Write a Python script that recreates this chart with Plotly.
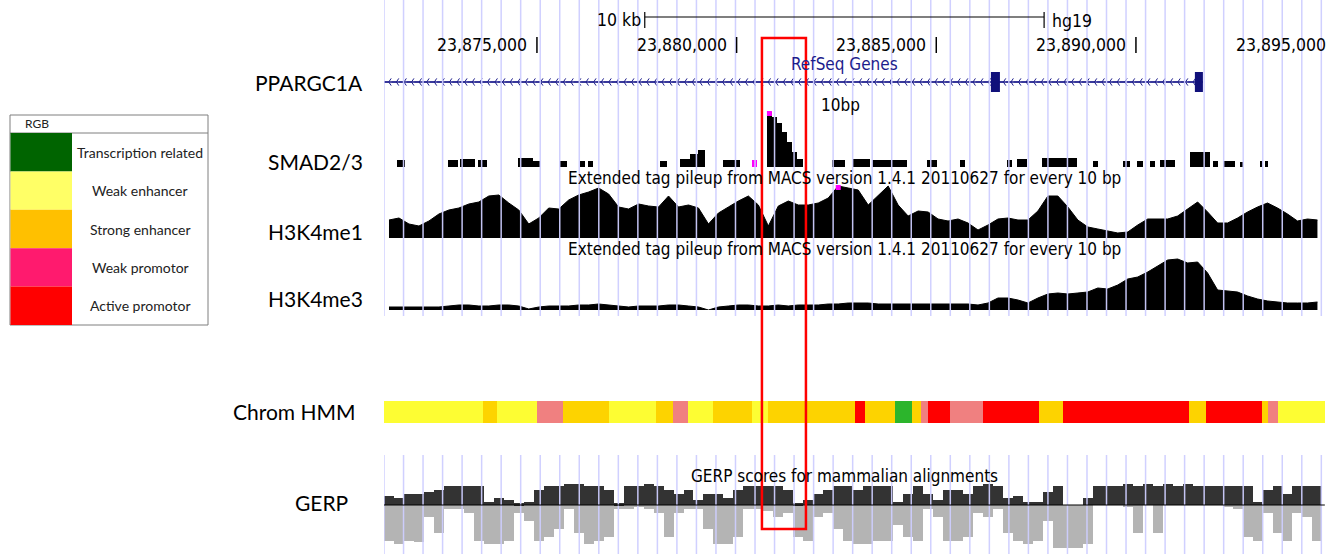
import numpy as np
import plotly.graph_objects as go

W, H = 1342, 554

# ---------------- data ----------------
VIEW_START = 23871170
VIEW_END = 23895160
TRACK_END = 23894730

tick_positions = [23875000, 23880000, 23885000, 23890000, 23895000]
tick_labels = ["23,875,000", "23,880,000", "23,885,000", "23,890,000", "23,895,000"]

scale_start, scale_end = 23877700, 23887700
scale_label = "10 kb"
assembly = "hg19"

gene_name = "PPARGC1A"
gene_end = 23891677
exon_starts = [23886368, 23891476]
exon_ends = [23886594, 23891677]

bin_size = 250
signal_start = 23871170

h3k4me1 = [18, 20, 14, 12, 17, 24, 28, 30, 34, 36,
           42, 43, 35, 28, 14, 20, 30, 29, 38, 43,
           46, 50, 44, 31, 29, 34, 32, 31, 42, 31,
           33, 30, 14, 25, 31, 37, 42, 33, 12, 32,
           37, 33, 33, 35, 40, 52, 50, 48, 33, 42,
           52, 33, 22, 27, 26, 19, 17, 19, 15, 8,
           13, 19, 20, 18, 18, 27, 42, 42, 31, 18,
           11, 9, 7, 5, 6, 13, 19, 19, 19, 22,
           29, 36, 26, 15, 15, 20, 26, 31, 35, 30,
           24, 17, 19, 18]

h3k4me3 = [3, 3, 3, 3, 3, 3, 4, 5, 5, 4,
           4, 5, 5, 4, 1, 3, 4, 4, 4, 5,
           5, 6, 5, 4, 3, 4, 4, 4, 5, 5,
           4, 3, 0, 3, 4, 5, 5, 4, 4, 5,
           4, 5, 5, 5, 6, 6, 7, 7, 7, 6,
           6, 6, 6, 6, 6, 6, 6, 6, 6, 5,
           7, 12, 12, 10, 7, 12, 16, 17, 16, 17,
           18, 22, 21, 25, 31, 33, 38, 44, 50, 51,
           47, 48, 37, 20, 19, 18, 14, 11, 9, 8,
           7, 7, 7, 8]

gerp_max = [2.5, 2, 3, 3, 3.5, 4, 5, 5, 5, 5,
            1, 2, 1.5, 0.5, 1, 4, 5, 5, 5.5, 5.5,
            5, 5, 4, 0.5, 5, 5, 5.5, 5, 4, 3,
            4, 1.5, 3, 3, 2, 4, 5, 5, 5, 5,
            4, 0.5, 1.5, 3, 4, 5, 5, 4, 5, 5,
            5, 1, 3, 5, 3, 1.5, 4, 4, 3, 5,
            5.5, 5, 2, 2.5, 1, 1, 3.5, 5, 0, 0,
            2, 5, 5, 5, 5.5, 5, 5.5, 5, 5.5, 5,
            5.5, 5, 5, 5, 5, 5, 5, 1, 4, 5,
            3, 5, 5, 5]

gerp_min = [-9, -10, -9, -9.5, -3, -7, -1, -1, -2, -9,
            -10, -10, -9, -2, -4, -9, -8, -6, -1, -7,
            -10, -9, -8, -1, -1, -0.5, -1, -2, -8, -2,
            -1, -1, -6, -10, -10, -8, -1, -1, -1.5, -3,
            -2, -8, -9, -3, -2, -6, -9, -10, -10, -9,
            -9, -5, -8, -9, -1, -3, -9, -9, -8, -2,
            -3, -1, -7, -9, -10, -9, -4, -11, -11, -11,
            -10, 0, 0, 0, -0.5, -7, 0, -7, 0, 0,
            0, 0, 0, 0, -0.5, -1, -8, -9, -2, -7,
            -9, -2, -3, -9]

smad_start = [23871495, 23872772, 23873072, 23873523, 23874524, 23874900, 23875576,
              23876077, 23876277, 23878080, 23878581, 23878831, 23879032, 23879658,
              23880384, 23880759, 23880885, 23881010, 23881135, 23881260, 23881385,
              23881511, 23882387, 23882913, 23883389, 23884766, 23885592, 23886769,
              23887019, 23887645, 23888922, 23889674, 23890024, 23890350, 23890600,
              23891351, 23891927, 23892178, 23892603, 23893104, 23893229]
smad_end = [23871695, 23873022, 23873448, 23873748, 23874900, 23875075, 23875751,
            23876202, 23876402, 23878255, 23878831, 23879032, 23879207, 23880083,
            23880509, 23880885, 23881010, 23881135, 23881260, 23881385, 23881511,
            23881661, 23882712, 23883338, 23884265, 23885016, 23885717, 23886894,
            23887270, 23888522, 23889048, 23889849, 23890174, 23890475, 23890976,
            23891852, 23892052, 23892478, 23892678, 23893179, 23893304]
smad_value = [7, 7, 8, 7, 9, 6, 6,
              6, 6, 6, 8, 13, 17, 7,
              7, 55, 50, 44, 35, 25, 15,
              8, 7, 8, 7, 7, 7, 7,
              8, 9, 6, 6, 6, 6, 7,
              15, 6, 6, 5, 6, 6]
smad_overflow = [23880384]

hmm_bounds = [23871170, 23873648, 23873999, 23875000, 23875651, 23876803, 23877980,
              23878406, 23878781, 23879407, 23880384, 23880784, 23882963, 23883213,
              23883964, 23884390, 23884615, 23884791, 23885342, 23886168, 23887570,
              23888171, 23891326, 23891752, 23893154, 23893304, 23893555, 23894730]
hmm_states = ["WE", "SE", "WE", "WP", "SE", "WE", "SE", "WP", "WE", "SE", "WE", "SE",
              "AP", "SE", "TR", "SE", "WP", "AP", "WP", "AP", "SE", "AP", "SE", "AP",
              "SE", "WP", "WE"]
hmm_track_colors = {"TR": "#2cb52c", "WE": "#fdfd33", "SE": "#fdd300",
                    "WP": "#f08080", "AP": "#ff0000"}

legend_labels = ["Transcription related", "Weak enhancer", "Strong enhancer",
                 "Weak promotor", "Active promotor"]
legend_colors = ["#006400", "#ffff66", "#ffc000", "#ff1a6e", "#ff0000"]

highlight_start, highlight_end = 23880634, 23881736

# ---------------- helpers ----------------
def px(x):
    return x / W


def py(y):
    return 1 - y / H


NARROW = "DejaVu Sans Condensed, Liberation Sans Narrow, sans-serif"
LABEL_FONT = "Lato, Open Sans, sans-serif"

fig = go.Figure()

centers = [signal_start + bin_size * (i + 0.5) for i in range(len(h3k4me1))]

# gene track (y6)
fig.add_trace(go.Scatter(x=[VIEW_START, gene_end], y=[0, 0], mode="lines",
                         line=dict(color="#1c1c8c", width=1.5), yaxis="y6",
                         hoverinfo="skip", showlegend=False))
chev = np.arange(VIEW_START + 120, gene_end - 150, 190)
fig.add_trace(go.Scatter(x=chev, y=[0] * len(chev), mode="markers", yaxis="y6",
                         marker=dict(symbol="y-left", size=6,
                                     line=dict(color="#1c1c8c", width=1)),
                         hoverinfo="skip", showlegend=False))

# SMAD2/3 (y2)
smad_colors = ["#ff00ff" if s in smad_overflow else "black" for s in smad_start]
fig.add_trace(go.Bar(x=[(a + b) / 2 for a, b in zip(smad_start, smad_end)],
                     width=[b - a for a, b in zip(smad_start, smad_end)],
                     y=smad_value, marker=dict(color=smad_colors, line=dict(width=0)),
                     yaxis="y2", showlegend=False))
imax = int(np.argmax(smad_value))
fig.add_trace(go.Scatter(x=[(smad_start[imax] + smad_end[imax]) / 2], y=[smad_value[imax] - 1.5],
                         mode="markers", yaxis="y2",
                         marker=dict(symbol="square", size=5, color="#ff00ff"),
                         showlegend=False))

# H3K4me1 (y3)
fig.add_trace(go.Scatter(x=centers, y=h3k4me1, mode="lines", fill="tozeroy",
                         fillcolor="black", line=dict(color="black", width=1),
                         yaxis="y3", showlegend=False))
jmax = int(np.argmax(h3k4me1))
fig.add_trace(go.Scatter(x=[centers[jmax]], y=[h3k4me1[jmax] - 1.5], mode="markers",
                         yaxis="y3", marker=dict(symbol="square", size=5, color="#ff00ff"),
                         showlegend=False))

# H3K4me3 (y4)
fig.add_trace(go.Scatter(x=centers, y=h3k4me3, mode="lines", fill="tozeroy",
                         fillcolor="black", line=dict(color="black", width=1),
                         yaxis="y4", showlegend=False))

# Chrom HMM (y5)
fig.add_trace(go.Bar(y=[0] * len(hmm_states), base=hmm_bounds[:-1],
                     x=[b - a for a, b in zip(hmm_bounds[:-1], hmm_bounds[1:])],
                     orientation="h", width=1,
                     marker=dict(color=[hmm_track_colors[s] for s in hmm_states],
                                 line=dict(width=0)),
                     yaxis="y5", showlegend=False))

# GERP (y7)
fig.add_trace(go.Bar(x=centers, y=gerp_min, width=bin_size,
                     marker=dict(color="#b4b4b4", line=dict(width=0)),
                     yaxis="y7", showlegend=False))
fig.add_trace(go.Bar(x=centers, y=gerp_max, width=bin_size,
                     marker=dict(color="#333333", line=dict(width=0)),
                     yaxis="y7", showlegend=False))

shapes = []
# guidelines
for g in np.arange(VIEW_START, TRACK_END, 489):
    for y0, y1 in [(0, 316), (455, 554)]:
        shapes.append(dict(type="line", xref="x", yref="paper", x0=g, x1=g,
                           y0=py(y1), y1=py(y0), layer="above",
                           line=dict(color="rgba(205,205,255,0.95)", width=1.5)))
# exons
for a, b in zip(exon_starts, exon_ends):
    shapes.append(dict(type="rect", xref="x", yref="y6", x0=a, x1=b, y0=-1, y1=1,
                       fillcolor="#10107a", line=dict(width=0)))
# GERP baseline
shapes.append(dict(type="line", xref="x", yref="y7", x0=VIEW_START, x1=TRACK_END,
                   y0=0, y1=0, line=dict(color="black", width=1)))
# ticks (marks only inside the drawn track area)
for t in tick_positions:
    if t <= TRACK_END:
        shapes.append(dict(type="line", xref="x", yref="paper", x0=t, x1=t,
                           y0=py(53), y1=py(37), line=dict(color="black", width=1.5)))
# scale bar
shapes.append(dict(type="line", xref="x", yref="paper", x0=scale_start, x1=scale_end,
                   y0=py(17), y1=py(17), line=dict(color="black", width=1.2)))
for s in (scale_start, scale_end):
    shapes.append(dict(type="line", xref="x", yref="paper", x0=s, x1=s,
                       y0=py(28), y1=py(12), line=dict(color="black", width=1.2)))
# highlight
shapes.append(dict(type="rect", xref="x", yref="paper", x0=highlight_start,
                   x1=highlight_end, y0=py(529), y1=py(38), layer="above",
                   line=dict(color="#ff0000", width=2.5), fillcolor="rgba(0,0,0,0)"))

# legend table (key)
lx0, lx1, lxc = 10, 208, 72
top, head = 115, 133
row_h = (325 - head) / len(legend_labels)
shapes.append(dict(type="rect", xref="paper", yref="paper", x0=px(lx0), x1=px(lx1),
                   y0=py(325), y1=py(top), line=dict(color="#7f7f7f", width=1)))
shapes.append(dict(type="line", xref="paper", yref="paper", x0=px(lx0), x1=px(lx1),
                   y0=py(head), y1=py(head), line=dict(color="#7f7f7f", width=1)))

annotations = []
for i, (lab, col) in enumerate(zip(legend_labels, legend_colors)):
    y0 = head + i * row_h
    shapes.append(dict(type="rect", xref="paper", yref="paper", x0=px(lx0 + 0.5),
                       x1=px(lxc), y0=py(y0 + row_h), y1=py(y0),
                       fillcolor=col, line=dict(width=0)))
    annotations.append(dict(text=lab, xref="paper", yref="paper", x=px(140),
                            y=py(y0 + row_h / 2), xanchor="center", yanchor="middle",
                            showarrow=False, font=dict(family=LABEL_FONT, size=14,
                                                       color="#222")))
annotations.append(dict(text="RGB", xref="paper", yref="paper", x=px(37), y=py(124),
                        xanchor="center", yanchor="middle", showarrow=False,
                        font=dict(family=LABEL_FONT, size=12, color="#222")))

# track labels on the left
left_labels = [(gene_name, 365, 82), ("SMAD2/3", 365, 162), ("H3K4me1", 365, 232),
               ("H3K4me3", 365, 298), ("Chrom HMM", 358, 411), ("GERP", 350, 502)]
for txt, xr, yc in left_labels:
    annotations.append(dict(text=txt, xref="paper", yref="paper", x=px(xr), y=py(yc),
                            xanchor="right", yanchor="middle", showarrow=False,
                            font=dict(family=LABEL_FONT, size=21, color="black")))

# browser texts
for t, lab in zip(tick_positions, tick_labels):
    annotations.append(dict(text=lab, xref="x", yref="paper", x=t - 200, y=py(45),
                            xanchor="right", yanchor="middle", showarrow=False,
                            font=dict(family=NARROW, size=17.5, color="black")))
annotations.append(dict(text=scale_label, xref="x", yref="paper", x=scale_start - 40,
                        y=py(20), xanchor="right", yanchor="middle", showarrow=False,
                        font=dict(family=NARROW, size=17.5, color="black")))
annotations.append(dict(text=assembly, xref="x", yref="paper", x=scale_end + 150,
                        y=py(21), xanchor="left", yanchor="middle", showarrow=False,
                        font=dict(family=NARROW, size=17.5, color="black")))
track_titles = [("RefSeq Genes", 64, "#1c1c8c", 845), ("10bp", 105, "black", 840),
                ("Extended tag pileup from MACS version 1.4.1 20110627 for every 10 bp", 178, "black", 845),
                ("Extended tag pileup from MACS version 1.4.1 20110627 for every 10 bp", 249, "black", 845),
                ("GERP scores for mammalian alignments", 476, "black", 845)]
for txt, yc, col, xc in track_titles:
    annotations.append(dict(text=txt, xref="paper", yref="paper", x=px(xc), y=py(yc),
                            xanchor="center", yanchor="middle", showarrow=False,
                            font=dict(family=NARROW, size=17, color=col)))


def ydom(bottom_px, top_px):
    return [py(bottom_px), py(top_px)]


hidden = dict(visible=False, fixedrange=True)
fig.update_layout(
    width=W, height=H, margin=dict(l=0, r=0, t=0, b=0),
    paper_bgcolor="white", plot_bgcolor="rgba(0,0,0,0)",
    barmode="overlay", bargap=0, showlegend=False,
    xaxis=dict(domain=[px(384), 1], range=[VIEW_START, VIEW_END], anchor="y2", **hidden),
    yaxis2=dict(domain=ydom(167, 107), range=[0, 60], anchor="x", **hidden),
    yaxis3=dict(domain=ydom(238, 178), range=[0, 60], anchor="x", **hidden),
    yaxis4=dict(domain=ydom(310, 250), range=[0, 60], anchor="x", **hidden),
    yaxis5=dict(domain=ydom(423, 401), range=[-0.5, 0.5], anchor="x", **hidden),
    yaxis6=dict(domain=ydom(92, 72), range=[-1, 1], anchor="x", **hidden),
    yaxis7=dict(domain=ydom(551.8, 481.6), range=[-12, 6], anchor="x", **hidden),
    shapes=shapes, annotations=annotations,
)

fig.write_html("out.html", config={"displayModeBar": False},
               post_script="document.body.style.margin='0px';")
